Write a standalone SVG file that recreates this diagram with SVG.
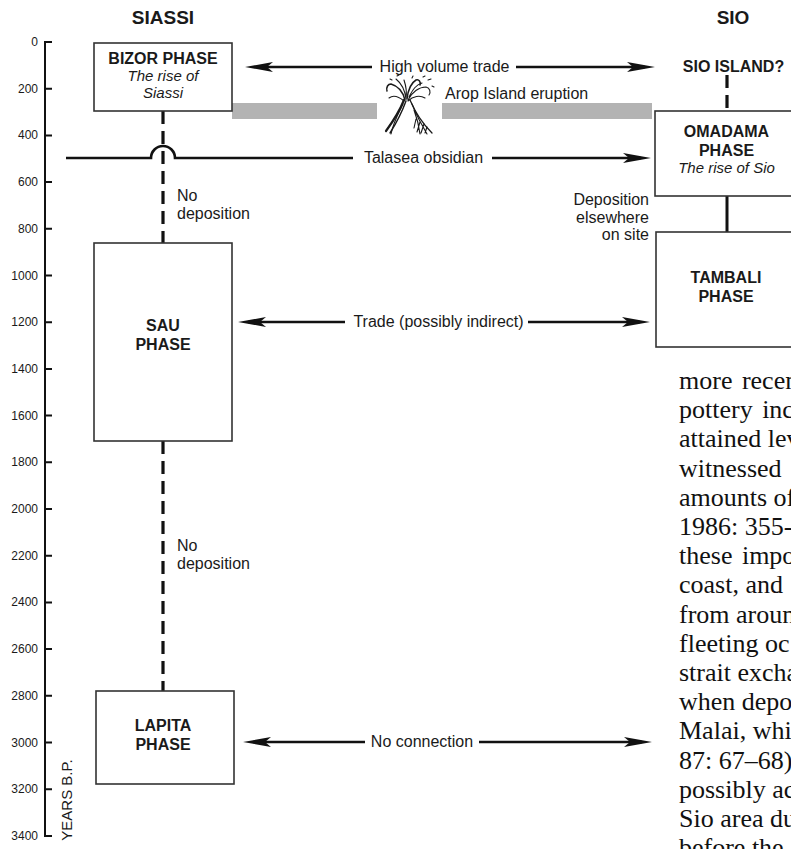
<svg xmlns="http://www.w3.org/2000/svg" width="791" height="849" viewBox="0 0 791 849">
  <style>
    .sans{font-family:"Liberation Sans",Arial,sans-serif;fill:#1a1a1a}
    .hdr{font-size:19px;font-weight:bold;text-anchor:middle}
    .ttl{font-size:16px;font-weight:bold;text-anchor:middle}
    .sub{font-size:15px;font-style:italic;text-anchor:middle}
    .lbl{font-size:16px}
    .rt{text-anchor:end}
    .mid{text-anchor:middle}
    .tick{font-size:12px;text-anchor:end}
    .box{fill:#fff;stroke:#333;stroke-width:1.6}
    .ln{fill:none;stroke:#111;stroke-width:2.6}
    .arr{fill:none;stroke:#111;stroke-width:2.6;marker-end:url(#head)}
    .dash{fill:none;stroke:#111;stroke-width:3.2;stroke-dasharray:13 7}
    .bar{fill:#b3b3b3}
    .body{font-family:"Liberation Serif","Times New Roman",serif;font-size:26px;fill:#111}
  </style>
  <defs>
    <marker id="head" viewBox="0 0 28 10" refX="18" refY="5" markerWidth="28" markerHeight="10" markerUnits="userSpaceOnUse" orient="auto">
      <path d="M0 0 L28 5 L0 10 L6 5 Z" fill="#111"/>
    </marker>
    <clipPath id="page"><rect x="0" y="0" width="791" height="849"/></clipPath>
  </defs>

  <!-- column headings -->
  <text class="sans hdr" x="163" y="24">SIASSI</text>
  <text class="sans hdr" x="733" y="24">SIO</text>

  <!-- time axis -->
  <g id="axis">
    <path class="ln" style="stroke-width:2" d="M52 42H45V836H52M45 88.7H52M45 135.4H52M45 182.1H52M45 228.8H52M45 275.5H52M45 322.2H52M45 368.9H52M45 415.6H52M45 462.3H52M45 509H52M45 555.7H52M45 602.4H52M45 649.1H52M45 695.8H52M45 742.5H52M45 789.2H52"/>
    <g class="sans tick">
      <text x="38" y="46">0</text>
      <text x="38" y="92.7">200</text>
      <text x="38" y="139.4">400</text>
      <text x="38" y="186.1">600</text>
      <text x="38" y="232.8">800</text>
      <text x="38" y="279.5">1000</text>
      <text x="38" y="326.2">1200</text>
      <text x="38" y="372.9">1400</text>
      <text x="38" y="419.6">1600</text>
      <text x="38" y="466.3">1800</text>
      <text x="38" y="513">2000</text>
      <text x="38" y="559.7">2200</text>
      <text x="38" y="606.4">2400</text>
      <text x="38" y="653.1">2600</text>
      <text x="38" y="699.8">2800</text>
      <text x="38" y="746.5">3000</text>
      <text x="38" y="793.2">3200</text>
      <text x="38" y="839.9">3400</text>
    </g>
    <text class="sans mid" style="font-size:15px" transform="translate(72 800) rotate(-90)">YEARS B.P.</text>
  </g>

  <!-- eruption band with volcano sketch -->
  <g id="eruption-band">
    <rect class="bar" x="232" y="103" width="145" height="16"/>
    <rect class="bar" x="442" y="103" width="210" height="16"/>
    <text class="sans lbl" x="445" y="99">Arop Island eruption</text>
    <g fill="none" stroke="#1a1a1a" stroke-width="1.1" stroke-linecap="round">
      <!-- cone, left flank -->
      <path stroke-width="2.2" d="M404 100C400 110 394 120 386 131"/>
      <path stroke-width="1.4" d="M406 101C402 112 397 122 390 133"/>
      <path d="M403 104C398 114 392 122 388 128M401 108C397 116 393 124 391 134"/>
      <!-- cone, right flank -->
      <path stroke-width="1.3" d="M410 100C415 112 423 124 432 133"/>
      <path d="M412 104C416 114 421 124 427 134M414 110C417 118 419 126 420 134M420 122L417 132M424 124L421 133M427 127L425 133M416 119L414 128"/>
      <!-- plume -->
      <path stroke-width="1.5" d="M405 100C403 92 398 86 391 84C388 84 386 87 387 91"/>
      <path d="M406 99C405 90 401 83 396 79M406 98C407 92 406 86 404 80M404 101C398 96 393 95 389 98"/>
      <path stroke-width="1.5" d="M407 99C408 90 411 83 416 80C419 79 421 82 420 85"/>
      <path d="M408 100C412 92 419 87 426 87C430 88 431 92 429 95M408 101C413 96 420 95 425 98M409 97C413 89 416 85 422 83"/>
      <path d="M428 80L431 79M432 86L434 87M397 76L399 75M423 77L425 76M392 80L390 79M412 78L413 76"/>
    </g>
  </g>

  <!-- connectors -->
  <g id="connectors">
    <path class="dash" d="M163 111V243"/>
    <path class="dash" d="M163 441V691"/>
    <path class="dash" d="M727 75V111"/>
    <path class="ln" style="stroke-width:3" d="M727 196V232"/>
    <path class="ln" d="M66 158H151A12 12 0 0 1 175 158H353"/>
    <path class="arr" d="M492 158H641"/>
    <path class="arr" d="M372 67H255"/>
    <path class="arr" d="M516 67H645"/>
    <path class="arr" d="M345 322H248"/>
    <path class="arr" d="M528 322H640"/>
    <path class="arr" d="M365 742H253"/>
    <path class="arr" d="M479 742H642"/>
  </g>

  <!-- connector labels -->
  <g class="sans lbl">
    <text class="mid" x="444.5" y="72">High volume trade</text>
    <text class="mid" x="423.5" y="163">Talasea obsidian</text>
    <text class="mid" x="438.5" y="327">Trade (possibly indirect)</text>
    <text class="mid" x="422" y="747">No connection</text>
    <text x="177" y="201">No</text>
    <text x="177" y="219">deposition</text>
    <text x="177" y="551">No</text>
    <text x="177" y="569">deposition</text>
    <text class="rt" x="649" y="205">Deposition</text>
    <text class="rt" x="649" y="222.5">elsewhere</text>
    <text class="rt" x="649" y="240">on site</text>
  </g>

  <!-- Siassi phases -->
  <g id="bizor">
    <rect class="box" x="94" y="43" width="138" height="68"/>
    <text class="sans ttl" x="163" y="64">BIZOR PHASE</text>
    <text class="sans sub" x="163" y="81">The rise of</text>
    <text class="sans sub" x="163" y="98">Siassi</text>
  </g>
  <g id="sau">
    <rect class="box" x="94" y="243" width="138" height="198"/>
    <text class="sans ttl" x="163" y="331">SAU</text>
    <text class="sans ttl" x="163" y="350">PHASE</text>
  </g>
  <g id="lapita">
    <rect class="box" x="96" y="691" width="138" height="93"/>
    <text class="sans ttl" x="163" y="731">LAPITA</text>
    <text class="sans ttl" x="163" y="750">PHASE</text>
  </g>

  <!-- Sio phases -->
  <g id="sio-island">
    <text class="sans ttl" x="733.5" y="72">SIO ISLAND?</text>
  </g>
  <g id="omadama">
    <rect class="box" x="655" y="111" width="150" height="85"/>
    <text class="sans ttl" x="726.5" y="137">OMADAMA</text>
    <text class="sans ttl" x="726.5" y="156">PHASE</text>
    <text class="sans sub" x="726.5" y="173">The rise of Sio</text>
  </g>
  <g id="tambali">
    <rect class="box" x="656" y="232" width="150" height="115"/>
    <text class="sans ttl" x="726" y="283">TAMBALI</text>
    <text class="sans ttl" x="726" y="302">PHASE</text>
  </g>

  <!-- running text column -->
  <g class="body" clip-path="url(#page)">
    <text x="679" y="389" word-spacing="3">more recent</text>
    <text x="679" y="418.2" word-spacing="3">pottery inc</text>
    <text x="679" y="447.4">attained lev</text>
    <text x="679" y="476.6">witnessed</text>
    <text x="679" y="505.8">amounts of</text>
    <text x="679" y="535">1986: 355-</text>
    <text x="679" y="564.2" word-spacing="3">these impo</text>
    <text x="679" y="593.4">coast, and</text>
    <text x="679" y="622.6">from aroun</text>
    <text x="679" y="651.8">fleeting oc</text>
    <text x="679" y="681">strait excha</text>
    <text x="679" y="710.2">when depo</text>
    <text x="679" y="739.4">Malai, whi</text>
    <text x="679" y="768.6">87: 67–68)</text>
    <text x="679" y="797.8">possibly ac</text>
    <text x="679" y="827">Sio area du</text>
    <text x="679" y="856.2">before the</text>
  </g>
</svg>
